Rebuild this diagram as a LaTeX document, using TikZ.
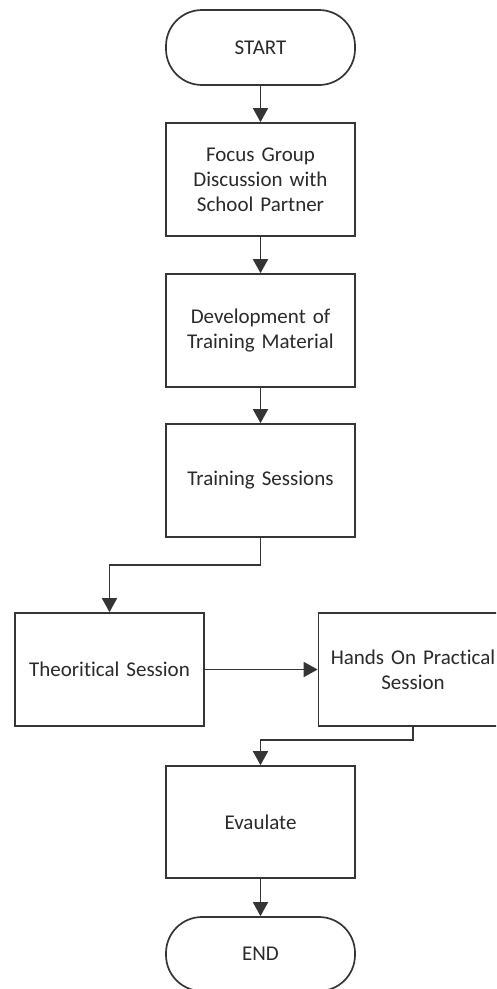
\documentclass[tikz,border=0pt]{standalone}
\usepackage{fontspec}
\setmainfont{Carlito}[Ligatures=NoCommon]
\usetikzlibrary{arrows.meta,positioning}
\definecolor{lin}{HTML}{353535}
\definecolor{txt}{HTML}{2A2A2A}
\tikzset{
  base/.style={draw=lin, line width=1.7pt, fill=white, text=txt, align=center,
    font=\fontsize{21}{25}\selectfont, inner sep=0pt},
  procbox/.style={base, rectangle, minimum width=189pt, minimum height=113pt, text width=185pt},
  termbox/.style={base, rectangle, rounded corners=36pt, minimum width=189pt, minimum height=75pt},
  conn/.style={draw=lin, line width=1.7pt, -{Triangle[width=15pt,length=14pt]}}
}
\begin{document}
\begin{tikzpicture}[x=1pt,y=-1pt]
\useasboundingbox (0,0) rectangle (496,989);
\clip (0,0) rectangle (496,989);
\node[termbox] (start) at (260.5,47.5) {START};
\node[procbox] (fg) at (260.5,179.5) {Focus Group\\Discussion with\\School Partner};
\node[procbox] (dev) at (260.5,330.5) {Development of\\Training Material};
\node[procbox] (ts) at (260.5,480.5) {Training Sessions};
\node[procbox] (th) at (109.5,669.5) {Theoritical Session};
\node[procbox] (ho) at (413,669.5) {Hands On Practical\\Session};
\node[procbox, minimum height=112pt] (ev) at (260.5,822) {Evaulate};
\node[termbox, minimum height=74pt] (end) at (260.5,954) {END};
\coordinate (k1) at (260.5,565);
\coordinate (k2) at (413,740);
\draw[conn] (start) -- (fg);
\draw[conn] (fg) -- (dev);
\draw[conn] (dev) -- (ts);
\draw[conn] (ts.south) -- (k1) -| (th.north);
\draw[conn] (th) -- (ho);
\draw[conn] (ho.south) -- (k2) -| (ev.north);
\draw[conn] (ev) -- (end);
\end{tikzpicture}
\end{document}
